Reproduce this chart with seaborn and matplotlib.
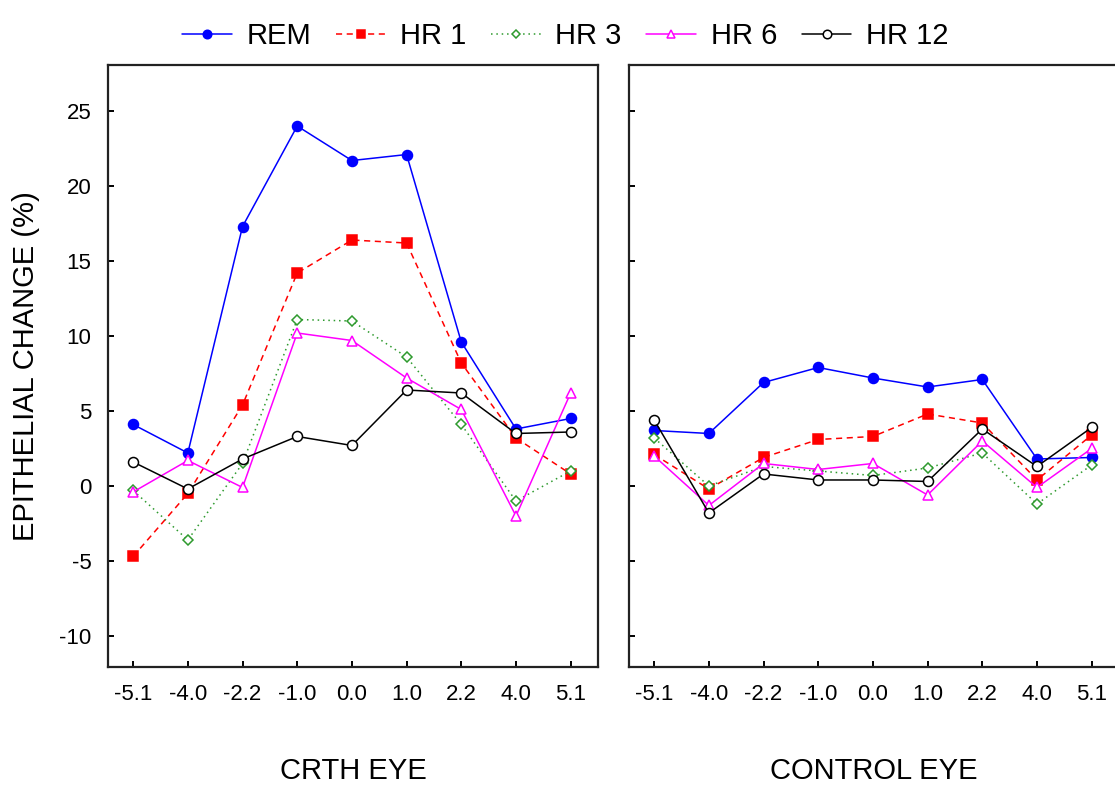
import pandas as pd
import seaborn as sns
import matplotlib.pyplot as plt
from matplotlib.lines import Line2D

# distance labels along the x axis
distances = ['-5.1', '-4.0', '-2.2', '-1.0', '0.0', '1.0', '2.2', '4.0', '5.1']
series_names = ['REM', 'HR 1', 'HR 3', 'HR 6', 'HR 12']

# CRTH eye, epithelial change (%)
crth_rem = [4.1, 2.2, 17.3, 24.0, 21.7, 22.1, 9.6, 3.8, 4.5]
crth_hr1 = [-4.7, -0.5, 5.4, 14.2, 16.4, 16.2, 8.2, 3.2, 0.8]
crth_hr3 = [-0.3, -3.6, 1.5, 11.1, 11.0, 8.6, 4.1, -1.0, 1.0]
crth_hr6 = [-0.4, 1.7, -0.1, 10.2, 9.7, 7.2, 5.1, -2.0, 6.2]
crth_hr12 = [1.6, -0.2, 1.8, 3.3, 2.7, 6.4, 6.2, 3.5, 3.6]

# control eye, epithelial change (%)
ctrl_rem = [3.7, 3.5, 6.9, 7.9, 7.2, 6.6, 7.1, 1.8, 1.9]
ctrl_hr1 = [2.1, -0.2, 1.9, 3.1, 3.3, 4.8, 4.2, 0.4, 3.4]
ctrl_hr3 = [3.2, 0.0, 1.3, 1.0, 0.7, 1.2, 2.2, -1.2, 1.4]
ctrl_hr6 = [2.0, -1.3, 1.5, 1.1, 1.5, -0.6, 3.0, -0.1, 2.5]
ctrl_hr12 = [4.4, -1.8, 0.8, 0.4, 0.4, 0.3, 3.8, 1.3, 3.9]


def build_frame(eye, values):
    rows = []
    for name, vals in zip(series_names, values):
        for i, (d, v) in enumerate(zip(distances, vals)):
            rows.append({'eye': eye, 'series': name, 'pos': i, 'distance': d, 'change': v})
    return pd.DataFrame(rows)


df = pd.concat([
    build_frame('CRTH EYE', [crth_rem, crth_hr1, crth_hr3, crth_hr6, crth_hr12]),
    build_frame('CONTROL EYE', [ctrl_rem, ctrl_hr1, ctrl_hr3, ctrl_hr6, ctrl_hr12]),
])

styles = {
    'REM':   dict(color='#0000ff', dashes=None, marker='o', markersize=7.2, markerfacecolor='#0000ff'),
    'HR 1':  dict(color='#ff0000', dashes=(4, 3), marker='s', markersize=7.5, markerfacecolor='#ff0000'),
    'HR 3':  dict(color='#2e9a2e', dashes=(1, 2.5), marker='D', markersize=5.2, markerfacecolor='white'),
    'HR 6':  dict(color='#ff00ff', dashes=None, marker='^', markersize=7.2, markerfacecolor='white'),
    'HR 12': dict(color='#000000', dashes=None, marker='o', markersize=7.2, markerfacecolor='white'),
}


def line_kwargs(st):
    kw = dict(color=st['color'], marker=st['marker'], markersize=st['markersize'],
              markerfacecolor=st['markerfacecolor'], markeredgecolor=st['color'],
              markeredgewidth=1.1, linewidth=1.1)
    if st['dashes'] is not None:
        kw['dashes'] = st['dashes']
    return kw


sns.set_style('white')
plt.rcParams['font.family'] = ['Liberation Sans', 'DejaVu Sans']
plt.rcParams['axes.unicode_minus'] = False
plt.rcParams['text.color'] = 'black'
plt.rcParams['axes.labelcolor'] = 'black'
plt.rcParams['xtick.color'] = 'black'
plt.rcParams['ytick.color'] = 'black'

fig = plt.figure(figsize=(11.15, 7.88), dpi=100)
ax_left = fig.add_axes([108 / 1115, 121 / 788, 490 / 1115, 602 / 788])
ax_right = fig.add_axes([629 / 1115, 121 / 788, 490 / 1115, 602 / 788])

for ax, eye in [(ax_left, 'CRTH EYE'), (ax_right, 'CONTROL EYE')]:
    sub = df[df['eye'] == eye]
    for name in series_names:
        sns.lineplot(data=sub[sub['series'] == name], x='pos', y='change', ax=ax,
                     legend=False, **line_kwargs(styles[name]))
    ax.set_xlim(-0.46, 8.5)
    ax.set_ylim(-12.07, 28.07)
    ax.set_xticks(range(len(distances)))
    ax.set_xticklabels(distances)
    ax.set_yticks([-10, -5, 0, 5, 10, 15, 20, 25])
    ax.tick_params(direction='in', length=4, width=1.4, labelsize=16, pad=12,
                   bottom=True, left=True, top=False, right=False)
    for sp in ax.spines.values():
        sp.set_color('#222222')
        sp.set_linewidth(1.6)
    ax.set_xlabel(eye, fontsize=21)
    ax.xaxis.set_label_coords(0.5, -0.15)
    ax.set_ylabel('')

ax_left.set_ylabel('EPITHELIAL CHANGE (%)', fontsize=21)
ax_left.yaxis.set_label_coords(-0.139, 0.5)
ax_right.tick_params(labelleft=False)

handles = [Line2D([], [], **line_kwargs(styles[n])) for n in series_names]
fig.legend(handles, series_names, loc='upper center', bbox_to_anchor=(0.507, 1.005), ncol=5,
           frameon=False, fontsize=21, handlelength=1.7, handletextpad=0.5, columnspacing=0.85,
           markerscale=0.85)

fig.savefig('out.png', dpi=100)
